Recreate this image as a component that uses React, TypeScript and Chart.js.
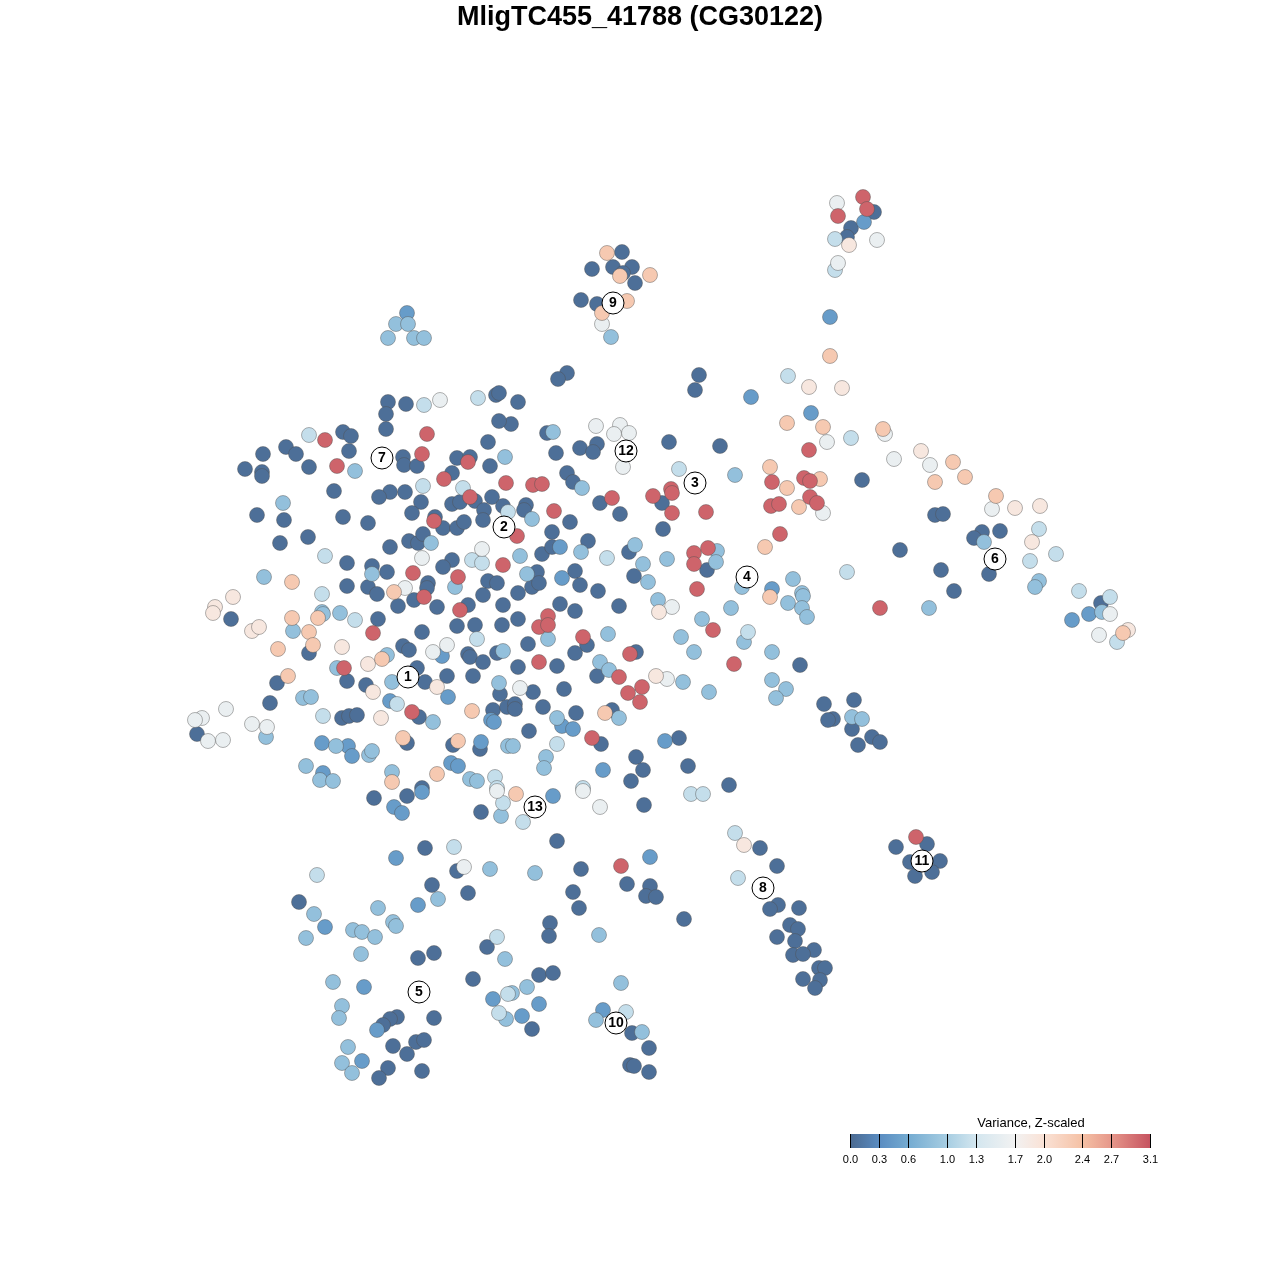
import React, { useEffect, useRef } from "react";
import { Chart, registerables } from "chart.js";

Chart.register(...registerables);

// t-SNE embedding, in plot units (x to the right, y downward).
const TITLE = "MligTC455_41788 (CG30122)";
const LEGEND_TITLE = "Variance, Z-scaled";
const TICK_VALUES = [0.0, 0.3, 0.6, 1.0, 1.3, 1.7, 2.0, 2.4, 2.7, 3.1];
const TICK_LABELS = ["0.0", "0.3", "0.6", "1.0", "1.3", "1.7", "2.0", "2.4", "2.7", "3.1"];

// variance (Z-scaled) per group of cells
const LEVELS = [0.05, 0.45, 0.85, 1.2, 1.6, 1.9, 2.3, 3.0];

const cellsV0: [number, number][] = [
  [622,252],[592,269],[613,267],[632,267],[623,273],[635,283],[581,300],[597,304],[567,373],[558,379],[699,375],[695,390],[518,402],[511,424],[547,433],[580,448],[597,444],[593,452],[556,453],[669,442],[720,446],[567,473],[573,482],
  [874,212],[851,228],[847,237],[862,480],
  [935,515],[943,514],[982,532],[974,538],[1000,531],[900,550],[941,570],[989,574],[954,591],[1101,603],[854,700],[833,719],[852,729],[872,737],[880,742],[858,745],[824,704],
  [896,847],[927,844],[910,862],[940,861],[932,872],[915,876],
  [644,805],[729,785],[760,848],[777,866],[778,905],[770,909],[799,908],[790,925],[798,929],[777,937],[795,941],[814,950],[793,955],[803,954],[819,968],[825,968],[803,979],[820,980],[815,988],[557,841],[581,869],[627,884],[650,886],[646,896],[656,897],[573,892],[579,908],[684,919],[550,923],[549,936],[539,975],[553,973],[532,1029],[632,1033],[649,1048],[630,1065],[634,1066],[649,1072],
  [374,798],[407,796],[481,812],[425,848],[457,871],[432,885],[468,893],[299,902],[487,947],[418,958],[434,953],[473,979],[397,1017],[390,1019],[383,1025],[434,1018],[416,1042],[424,1040],[393,1046],[407,1054],[388,1068],[379,1078],[422,1071],
  [388,402],[406,404],[496,395],[499,393],[386,414],[499,421],[386,429],[343,432],[351,436],[488,442],[286,447],[296,454],[263,454],[349,451],[403,457],[404,465],[417,466],[457,458],[470,457],[490,466],[245,469],[262,472],[262,476],[309,467],[452,473],[334,491],[390,492],[405,492],
  [379,497],[492,497],[421,502],[452,504],[460,502],[475,501],[484,510],[503,506],[257,515],[284,520],[343,517],[368,523],[412,513],[435,517],[443,528],[457,528],[464,522],[483,520],[280,543],[308,537],[390,547],[409,541],[418,543],[423,534],[452,560],[443,567],[347,563],[372,566],[387,572],[488,581],[497,583],[347,586],[368,587],[377,594],[428,583],[427,588],[398,606],[414,600],[437,607],[483,595],[468,605],[503,605],[231,619],[378,619],[422,632],[457,626],[475,625],[502,625],[309,653],[403,646],[409,650],[468,654],[470,657],[483,662],[497,653],[347,681],[417,668],[425,682],[447,676],[473,676],[500,694],[277,683],[366,685],[270,703],[419,717],[342,718],[349,716],[357,715],[493,710],[507,707],[197,734],[407,743],[422,788],[453,745],[480,749],
  [600,503],[662,503],[663,529],[620,514],[526,505],[524,510],[570,522],[552,532],[588,541],[542,554],[552,547],[629,552],[707,570],[575,571],[580,585],[537,572],[532,587],[539,583],[518,593],[598,591],[634,576],[560,604],[575,611],[619,606],[518,619],[528,644],[587,645],[575,653],[636,652],[800,665],[518,667],[557,666],[533,692],[564,689],[597,676],[828,720],[515,704],[515,709],[543,707],[576,713],[612,710],[529,731],[601,744],[636,757],[643,770],[631,781],[679,738],[688,766]
];

const cellsV1: [number, number][] = [
  [407,313],[864,222],[830,317],[751,397],[811,413],[1089,614],[1072,620],[553,796],[650,857],[539,1004],[522,1016],[603,1010],[394,807],[402,813],[422,792],[396,858],[418,905],[325,927],[364,987],[493,999],[377,1030],[362,1061],[442,656],[448,697],[390,701],[491,720],[494,722],[322,743],[348,746],[323,773],[451,763],[458,766],[481,742],[560,547],[562,578],[772,589],[562,726],[573,729],[603,770],[665,741],[352,756]
];

const cellsV2: [number, number][] = [
  [396,324],[408,324],[388,338],[414,338],[424,338],[611,337],[553,432],[582,488],[735,475],[355,471],[505,457],[984,542],[1039,581],[1035,587],[929,608],[1102,612],[852,717],[862,719],[535,873],[599,935],[527,987],[512,993],[621,983],[596,1020],[642,1032],[501,816],[490,869],[438,899],[314,914],[378,908],[393,922],[396,926],[353,930],[362,932],[375,937],[306,938],[361,954],[505,959],[333,982],[342,1006],[339,1018],[506,1019],[348,1047],[342,1063],[352,1073],[283,503],[431,543],[372,574],[264,577],[455,587],[340,613],[293,631],[503,651],[337,668],[387,655],[392,682],[499,683],[303,698],[311,697],[433,722],[266,737],[336,746],[369,755],[372,751],[306,766],[320,780],[333,781],[392,772],[470,779],[477,781],[508,746],[532,519],[520,556],[581,552],[635,545],[643,564],[667,559],[717,551],[716,562],[527,574],[648,582],[742,587],[793,579],[788,603],[802,593],[803,596],[802,608],[807,617],[658,600],[731,608],[548,639],[702,619],[608,634],[681,637],[744,642],[694,652],[772,652],[600,662],[609,670],[683,682],[709,692],[772,680],[786,689],[776,698],[557,718],[619,718],[546,757],[544,768],[513,746],[322,612],[323,614]
];

const cellsV3: [number, number][] = [
  [478,398],[424,405],[309,435],[423,486],[463,488],[788,376],[835,270],[851,438],[1039,529],[1030,561],[1056,554],[847,572],[1079,591],[1110,597],[1117,642],[523,822],[691,794],[703,794],[735,833],[738,878],[626,1012],[503,803],[454,847],[317,875],[497,937],[508,994],[499,1013],[508,512],[472,560],[482,563],[325,556],[322,594],[355,620],[477,639],[397,704],[323,716],[495,777],[497,788],[607,558],[748,632],[557,744],[583,788],[679,469],[835,239]
];

const cellsV4: [number, number][] = [
  [440,400],[602,324],[596,426],[620,425],[614,434],[629,433],[623,467],[827,442],[837,203],[877,240],[838,263],[885,434],[894,459],[930,465],[992,509],[1110,614],[1099,635],[583,791],[600,807],[464,867],[497,791],[482,549],[422,558],[405,588],[433,652],[447,645],[226,709],[202,718],[195,720],[208,741],[223,740],[252,724],[267,727],[672,607],[520,688],[667,679],[823,513]
];

const cellsV5: [number, number][] = [
  [809,387],[849,245],[842,388],[921,451],[1015,508],[1040,506],[1032,542],[1128,630],[744,845],[215,607],[233,597],[213,613],[252,631],[259,627],[342,647],[368,664],[437,687],[373,692],[381,718],[659,612],[656,676]
];

const cellsV6: [number, number][] = [
  [607,253],[620,276],[650,275],[627,301],[602,313],[830,356],[787,423],[823,427],[770,467],[820,479],[787,488],[883,429],[953,462],[965,477],[935,482],[996,496],[1123,633],[516,794],[292,582],[394,592],[292,618],[318,618],[309,632],[278,649],[313,645],[288,676],[382,659],[472,711],[403,738],[392,782],[437,774],[458,741],[770,597],[605,713],[799,507],[765,547]
];

const cellsV7: [number, number][] = [
  [863,197],[867,209],[838,216],[809,450],[772,482],[804,478],[810,481],[880,608],[916,837],[621,866],[325,440],[427,434],[422,454],[468,462],[337,466],[444,479],[506,483],[533,485],[542,484],[671,489],[470,497],[434,521],[413,573],[458,577],[503,565],[424,597],[460,610],[373,633],[344,668],[412,712],[612,498],[653,496],[672,493],[672,513],[706,512],[554,511],[517,536],[694,553],[694,564],[708,548],[697,589],[548,616],[539,627],[548,625],[713,630],[583,637],[630,654],[734,664],[539,662],[619,677],[642,687],[628,693],[640,702],[592,738],[771,506],[779,504],[810,497],[817,503],[780,534]
];

const CELL_GROUPS = [cellsV0, cellsV1, cellsV2, cellsV3, cellsV4, cellsV5, cellsV6, cellsV7];

// cluster centres and ids
const CLUSTER_IDS = ["1", "2", "3", "4", "5", "6", "7", "8", "9", "10", "11", "12", "13"];
const CLUSTER_X = [408, 504, 695, 747, 419, 995, 382, 763, 613, 616, 922, 626, 535];
const CLUSTER_Y = [677, 527, 483, 577, 992, 559, 458, 888, 303, 1023, 861, 451, 807];

// colour palette (RdBu, faded)
const STOPS: [number, string][] = [
  [0.0, "#4a6990"],
  [0.3, "#5a8cc1"],
  [0.6, "#74abd1"],
  [1.0, "#a6cde2"],
  [1.3, "#d3e6ef"],
  [1.7, "#f2f2f2"],
  [2.0, "#fae2d6"],
  [2.4, "#f5c1a5"],
  [2.7, "#e6978a"],
  [3.1, "#c65360"],
];

function hexToRgb(h: string) {
  const n = parseInt(h.slice(1), 16);
  return [(n >> 16) & 255, (n >> 8) & 255, n & 255];
}
function colorFor(v: number) {
  if (v <= STOPS[0][0]) return STOPS[0][1];
  for (let i = 1; i < STOPS.length; i++) {
    if (v <= STOPS[i][0]) {
      const [v0, c0] = STOPS[i - 1];
      const [v1, c1] = STOPS[i];
      const t = (v - v0) / (v1 - v0);
      const a = hexToRgb(c0), b = hexToRgb(c1);
      const r = a.map((x, k) => Math.round(x + (b[k] - x) * t));
      return `rgb(${r[0]},${r[1]},${r[2]})`;
    }
  }
  return STOPS[STOPS.length - 1][1];
}

const FONT = "'Liberation Sans', Arial, Helvetica, sans-serif";

const overlayPlugin = {
  id: "overlay",
  afterDatasetsDraw(chart: any) {
    const ctx = chart.ctx;
    const xs = chart.scales.x, ys = chart.scales.y;
    ctx.save();
    for (let i = 0; i < CLUSTER_IDS.length; i++) {
      const px = xs.getPixelForValue(CLUSTER_X[i]);
      const py = ys.getPixelForValue(CLUSTER_Y[i]);
      ctx.beginPath();
      ctx.arc(px, py, 11, 0, Math.PI * 2);
      ctx.fillStyle = "#ffffff";
      ctx.fill();
      ctx.lineWidth = 1;
      ctx.strokeStyle = "#000000";
      ctx.stroke();
      ctx.fillStyle = "#000000";
      ctx.font = `bold 14px ${FONT}`;
      ctx.textAlign = "center";
      ctx.textBaseline = "middle";
      ctx.fillText(CLUSTER_IDS[i], px, py + 0.5);
    }
    ctx.restore();
  },
  afterDraw(chart: any) {
    const ctx = chart.ctx;
    ctx.save();
    // title
    ctx.fillStyle = "#000000";
    ctx.font = `bold 27px ${FONT}`;
    ctx.textAlign = "center";
    ctx.textBaseline = "middle";
    ctx.fillText(TITLE, 640, 18);

    // colour bar
    const x0 = 850, x1 = 1150, y0 = 1134, y1 = 1148;
    const vmax = TICK_VALUES[TICK_VALUES.length - 1];
    const grad = ctx.createLinearGradient(x0, 0, x1, 0);
    for (const [v, c] of STOPS) grad.addColorStop(v / vmax, c);
    ctx.fillStyle = grad;
    ctx.fillRect(x0, y0, x1 - x0, y1 - y0);
    ctx.strokeStyle = "#000000";
    ctx.lineWidth = 1;
    ctx.font = `11px ${FONT}`;
    ctx.textAlign = "center";
    ctx.textBaseline = "middle";
    TICK_VALUES.forEach((v, i) => {
      const x = Math.round(x0 + (v / vmax) * (x1 - x0)) + 0.5;
      ctx.beginPath();
      ctx.moveTo(x, y0);
      ctx.lineTo(x, y1);
      ctx.stroke();
      ctx.fillStyle = "#000000";
      ctx.fillText(TICK_LABELS[i], x, 1160);
    });
    ctx.font = `13px ${FONT}`;
    ctx.fillText(LEGEND_TITLE, 1031, 1123);
    ctx.restore();
  },
};

export default function App() {
  const ref = useRef<HTMLCanvasElement | null>(null);
  useEffect(() => {
    document.body.style.margin = "0";
    const canvas = ref.current;
    if (!canvas) return;
    const datasets = CELL_GROUPS.map((pts, i) => {
      const col = colorFor(LEVELS[i]);
      return {
        label: `variance ${LEVELS[i]}`,
        data: pts.map(([x, y]) => ({ x, y })),
        backgroundColor: col,
        borderColor: "rgba(80,80,80,0.55)",
        borderWidth: 0.8,
        pointRadius: 7.5,
        pointHoverRadius: 7.5,
        order: CELL_GROUPS.length - i,
      };
    });
    const chart = new Chart(canvas, {
      type: "scatter",
      data: { datasets },
      options: {
        animation: false,
        responsive: false,
        devicePixelRatio: 1,
        layout: { padding: 0, autoPadding: false },
        plugins: { legend: { display: false }, tooltip: { enabled: false }, title: { display: false } },
        scales: {
          x: { type: "linear", min: 0, max: 1280, display: false },
          y: { type: "linear", min: 0, max: 1280, reverse: true, display: false },
        },
      },
      plugins: [overlayPlugin],
    } as any);
    return () => chart.destroy();
  }, []);
  return (
    <div style={{ position: "absolute", left: 0, top: 0, width: 1280, height: 1280, background: "#ffffff" }}>
      <canvas ref={ref} width={1280} height={1280} />
    </div>
  );
}
